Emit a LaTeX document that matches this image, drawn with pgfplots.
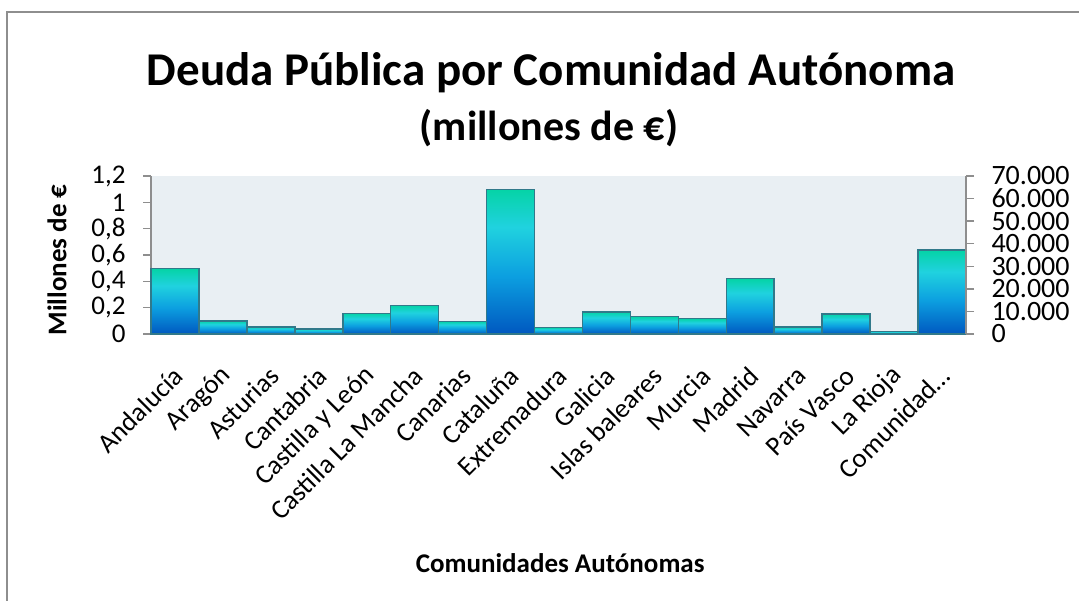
\documentclass[border=0pt]{standalone}
\usepackage{pgfplots}
\pgfplotsset{compat=1.18}
\usepackage{pgfplotstable}
\usepackage{fontspec}
\setmainfont{Carlito}
\definecolor{plotbg}{HTML}{E9EFF3}
\definecolor{edge}{HTML}{31798A}
\definecolor{axgray}{HTML}{8E8E8E}
\definecolor{btop}{HTML}{05D3A6}
\definecolor{bcyan}{HTML}{20D2DF}
\definecolor{bmid}{HTML}{0C9FE0}
\definecolor{bbot}{HTML}{0058C0}
\pgfdeclareverticalshading{barshade}{100bp}{color(0bp)=(bbot); color(25bp)=(bbot); color(45bp)=(bmid); color(62bp)=(bcyan); color(75bp)=(btop); color(100bp)=(btop)}
\pgfplotstableread{
x y
0 0.496
1 0.099
2 0.055
3 0.038
4 0.157
5 0.218
6 0.096
7 1.099
8 0.048
9 0.167
10 0.131
11 0.116
12 0.420
13 0.053
14 0.152
15 0.020
16 0.638
}\deuda
\begin{document}
\begin{tikzpicture}[x=1pt,y=1pt]
\useasboundingbox (0,0) rectangle (1079,601);
\draw[axgray, line width=1.5pt] (7,-5) -- (7,589) -- (1085,589);
\node[anchor=base, font=\fontsize{47}{50}\selectfont\bfseries] at (551,515) {Deuda Pública por Comunidad Autónoma};
\node[anchor=base, font=\fontsize{42}{44}\selectfont\bfseries] at (549,460) {(millones de €)};
\begin{axis}[
  at={(151pt,267pt)}, anchor=south west,
  scale only axis, width=815pt, height=158pt,
  xmin=-0.5, xmax=16.5, ymin=0, ymax=1.2,
  axis background/.style={fill=plotbg},
  axis x line*=bottom, axis y line*=left,
  axis line style={axgray, line width=1.5pt},
  tick align=outside, major tick length=8pt,
  y tick style={axgray, line width=1.5pt},
  x tick style={draw=none},
  ytick={0,0.2,0.4,0.6,0.8,1,1.2},
  yticklabels={0,{0,2},{0,4},{0,6},{0,8},1,{1,2}},
  yticklabel style={font=\fontsize{27}{29}\selectfont, xshift=-14pt},
  xtick={0,...,16},
  xticklabels={Andalucía,Aragón,Asturias,Cantabria,Castilla y León,Castilla La Mancha,Canarias,Cataluña,Extremadura,Galicia,Islas baleares,Murcia,Madrid,Navarra,País Vasco,La Rioja,Comunidad…},
  xticklabel style={font=\fontsize{27}{29}\selectfont, yshift=-27pt, xshift=6pt, rotate=45, anchor=east},
  ylabel={Millones de €},
  ylabel style={at={(axis description cs:-0.1153,0.468)}, rotate=0, anchor=center, font=\fontsize{27}{29}\selectfont\bfseries},
  xlabel={Comunidades Autónomas},
  xlabel style={at={(axis description cs:0.502,-1.449)}, anchor=center, font=\fontsize{27}{29}\selectfont\bfseries},
  clip=false,
]
\pgfplotsinvokeforeach{0,...,16}{
  \addplot[ybar, bar width=1, bar shift=0pt, draw=edge, line width=1.5pt, shading=barshade, forget plot,
    x filter/.expression={abs(x-#1)<0.1 ? x : nan}] table[x=x,y=y] {\deuda};
}
\end{axis}
\begin{axis}[
  at={(151pt,267pt)}, anchor=south west,
  scale only axis, width=815pt, height=158pt,
  xmin=-0.5, xmax=16.5, ymin=0, ymax=70000,
  axis x line=none, axis y line*=right,
  axis line style={axgray, line width=1.5pt},
  tick align=outside, major tick length=8pt,
  y tick style={axgray, line width=1.5pt},
  scaled y ticks=false,
  ytick={0,10000,20000,30000,40000,50000,60000,70000},
  yticklabels={0,10.000,20.000,30.000,40.000,50.000,60.000,70.000},
  yticklabel style={font=\fontsize{28}{30}\selectfont, xshift=14pt},
]
\end{axis}
\end{tikzpicture}
\end{document}
